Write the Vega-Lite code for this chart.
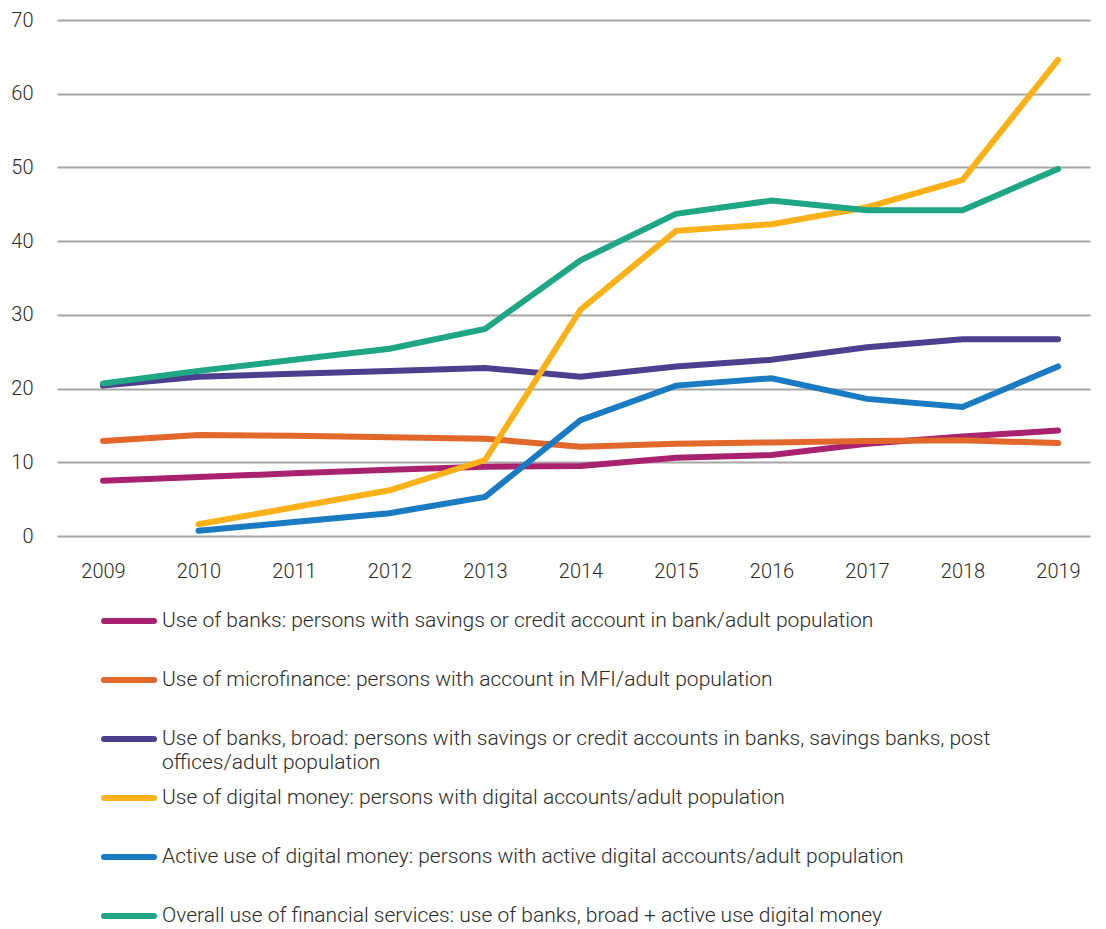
{
  "$schema": "https://vega.github.io/schema/vega-lite/v6.json",
  "autosize": "none",
  "width": 1033,
  "height": 516,
  "padding": {"left": 57, "top": 20, "right": 16, "bottom": 393},
  "background": "white",
  "config": {
    "view": {"stroke": null},
    "font": "Roboto"
  },
  "datasets": {
    "series": [
      {"year": 2009, "series": "Use of banks: persons with savings or credit account in bank/adult population", "value": 7.5},
      {"year": 2010, "series": "Use of banks: persons with savings or credit account in bank/adult population", "value": 8.0},
      {"year": 2011, "series": "Use of banks: persons with savings or credit account in bank/adult population", "value": 8.5},
      {"year": 2012, "series": "Use of banks: persons with savings or credit account in bank/adult population", "value": 9.0},
      {"year": 2013, "series": "Use of banks: persons with savings or credit account in bank/adult population", "value": 9.4},
      {"year": 2014, "series": "Use of banks: persons with savings or credit account in bank/adult population", "value": 9.5},
      {"year": 2015, "series": "Use of banks: persons with savings or credit account in bank/adult population", "value": 10.6},
      {"year": 2016, "series": "Use of banks: persons with savings or credit account in bank/adult population", "value": 11.0},
      {"year": 2017, "series": "Use of banks: persons with savings or credit account in bank/adult population", "value": 12.5},
      {"year": 2018, "series": "Use of banks: persons with savings or credit account in bank/adult population", "value": 13.5},
      {"year": 2019, "series": "Use of banks: persons with savings or credit account in bank/adult population", "value": 14.3},

      {"year": 2009, "series": "Use of microfinance: persons with account in MFI/adult population", "value": 12.9},
      {"year": 2010, "series": "Use of microfinance: persons with account in MFI/adult population", "value": 13.7},
      {"year": 2011, "series": "Use of microfinance: persons with account in MFI/adult population", "value": 13.6},
      {"year": 2012, "series": "Use of microfinance: persons with account in MFI/adult population", "value": 13.4},
      {"year": 2013, "series": "Use of microfinance: persons with account in MFI/adult population", "value": 13.2},
      {"year": 2014, "series": "Use of microfinance: persons with account in MFI/adult population", "value": 12.1},
      {"year": 2015, "series": "Use of microfinance: persons with account in MFI/adult population", "value": 12.5},
      {"year": 2016, "series": "Use of microfinance: persons with account in MFI/adult population", "value": 12.7},
      {"year": 2017, "series": "Use of microfinance: persons with account in MFI/adult population", "value": 12.9},
      {"year": 2018, "series": "Use of microfinance: persons with account in MFI/adult population", "value": 13.0},
      {"year": 2019, "series": "Use of microfinance: persons with account in MFI/adult population", "value": 12.6},

      {"year": 2009, "series": "Use of banks, broad: persons with savings or credit accounts in banks, savings banks, post offices/adult population", "value": 20.4},
      {"year": 2010, "series": "Use of banks, broad: persons with savings or credit accounts in banks, savings banks, post offices/adult population", "value": 21.6},
      {"year": 2011, "series": "Use of banks, broad: persons with savings or credit accounts in banks, savings banks, post offices/adult population", "value": 22.0},
      {"year": 2012, "series": "Use of banks, broad: persons with savings or credit accounts in banks, savings banks, post offices/adult population", "value": 22.4},
      {"year": 2013, "series": "Use of banks, broad: persons with savings or credit accounts in banks, savings banks, post offices/adult population", "value": 22.8},
      {"year": 2014, "series": "Use of banks, broad: persons with savings or credit accounts in banks, savings banks, post offices/adult population", "value": 21.6},
      {"year": 2015, "series": "Use of banks, broad: persons with savings or credit accounts in banks, savings banks, post offices/adult population", "value": 23.0},
      {"year": 2016, "series": "Use of banks, broad: persons with savings or credit accounts in banks, savings banks, post offices/adult population", "value": 23.9},
      {"year": 2017, "series": "Use of banks, broad: persons with savings or credit accounts in banks, savings banks, post offices/adult population", "value": 25.6},
      {"year": 2018, "series": "Use of banks, broad: persons with savings or credit accounts in banks, savings banks, post offices/adult population", "value": 26.7},
      {"year": 2019, "series": "Use of banks, broad: persons with savings or credit accounts in banks, savings banks, post offices/adult population", "value": 26.7},

      {"year": 2010, "series": "Use of digital money: persons with digital accounts/adult population", "value": 1.6},
      {"year": 2011, "series": "Use of digital money: persons with digital accounts/adult population", "value": 3.9},
      {"year": 2012, "series": "Use of digital money: persons with digital accounts/adult population", "value": 6.2},
      {"year": 2013, "series": "Use of digital money: persons with digital accounts/adult population", "value": 10.3},
      {"year": 2014, "series": "Use of digital money: persons with digital accounts/adult population", "value": 30.7},
      {"year": 2015, "series": "Use of digital money: persons with digital accounts/adult population", "value": 41.4},
      {"year": 2016, "series": "Use of digital money: persons with digital accounts/adult population", "value": 42.3},
      {"year": 2017, "series": "Use of digital money: persons with digital accounts/adult population", "value": 44.6},
      {"year": 2018, "series": "Use of digital money: persons with digital accounts/adult population", "value": 48.3},
      {"year": 2019, "series": "Use of digital money: persons with digital accounts/adult population", "value": 64.6},

      {"year": 2010, "series": "Active use of digital money: persons with active digital accounts/adult population", "value": 0.7},
      {"year": 2011, "series": "Active use of digital money: persons with active digital accounts/adult population", "value": 1.9},
      {"year": 2012, "series": "Active use of digital money: persons with active digital accounts/adult population", "value": 3.1},
      {"year": 2013, "series": "Active use of digital money: persons with active digital accounts/adult population", "value": 5.3},
      {"year": 2014, "series": "Active use of digital money: persons with active digital accounts/adult population", "value": 15.7},
      {"year": 2015, "series": "Active use of digital money: persons with active digital accounts/adult population", "value": 20.4},
      {"year": 2016, "series": "Active use of digital money: persons with active digital accounts/adult population", "value": 21.4},
      {"year": 2017, "series": "Active use of digital money: persons with active digital accounts/adult population", "value": 18.6},
      {"year": 2018, "series": "Active use of digital money: persons with active digital accounts/adult population", "value": 17.5},
      {"year": 2019, "series": "Active use of digital money: persons with active digital accounts/adult population", "value": 23.0},

      {"year": 2009, "series": "Overall use of financial services: use of banks, broad + active use digital money", "value": 20.7},
      {"year": 2010, "series": "Overall use of financial services: use of banks, broad + active use digital money", "value": 22.4},
      {"year": 2011, "series": "Overall use of financial services: use of banks, broad + active use digital money", "value": 23.9},
      {"year": 2012, "series": "Overall use of financial services: use of banks, broad + active use digital money", "value": 25.4},
      {"year": 2013, "series": "Overall use of financial services: use of banks, broad + active use digital money", "value": 28.1},
      {"year": 2014, "series": "Overall use of financial services: use of banks, broad + active use digital money", "value": 37.4},
      {"year": 2015, "series": "Overall use of financial services: use of banks, broad + active use digital money", "value": 43.7},
      {"year": 2016, "series": "Overall use of financial services: use of banks, broad + active use digital money", "value": 45.5},
      {"year": 2017, "series": "Overall use of financial services: use of banks, broad + active use digital money", "value": 44.2},
      {"year": 2018, "series": "Overall use of financial services: use of banks, broad + active use digital money", "value": 44.2},
      {"year": 2019, "series": "Overall use of financial services: use of banks, broad + active use digital money", "value": 49.8}
    ]
  },
  "data": {"name": "series"},
  "mark": {"type": "line", "strokeWidth": 6, "strokeCap": "round", "strokeJoin": "miter"},
  "encoding": {
    "x": {
      "field": "year",
      "type": "quantitative",
      "scale": {"domain": [2008.518, 2019.335], "nice": false, "zero": false},
      "axis": {
        "title": null,
        "values": [2009, 2010, 2011, 2012, 2013, 2014, 2015, 2016, 2017, 2018, 2019],
        "format": "d",
        "grid": false,
        "domain": false,
        "ticks": false,
        "labelFlush": false,
        "labelPadding": 25,
        "labelFontSize": 20,
        "labelFont": "Roboto",
        "labelFontWeight": 300,
        "labelColor": "#2b2b2b"
      }
    },
    "y": {
      "field": "value",
      "type": "quantitative",
      "scale": {"domain": [0, 70], "nice": false},
      "axis": {
        "title": null,
        "values": [0, 10, 20, 30, 40, 50, 60, 70],
        "grid": true,
        "gridColor": "#a6a6a6",
        "gridWidth": 2,
        "gridOpacity": 1,
        "domain": false,
        "ticks": false,
        "labelPadding": 24,
        "labelFontSize": 20,
        "labelFont": "Roboto",
        "labelFontWeight": 300,
        "labelColor": "#2b2b2b"
      }
    },
    "color": {
      "field": "series",
      "type": "nominal",
      "sort": null,
      "scale": {
        "domain": [
          "Use of banks: persons with savings or credit account in bank/adult population",
          "Use of microfinance: persons with account in MFI/adult population",
          "Use of banks, broad: persons with savings or credit accounts in banks, savings banks, post offices/adult population",
          "Use of digital money: persons with digital accounts/adult population",
          "Active use of digital money: persons with active digital accounts/adult population",
          "Overall use of financial services: use of banks, broad + active use digital money"
        ],
        "range": ["#a9226f", "#e1672a", "#4b3f8e", "#fbb117", "#1a7bc3", "#1ea685"]
      },
      "legend": {
        "title": null,
        "orient": "none",
        "legendX": 44,
        "legendY": 579,
        "direction": "vertical",
        "columns": 1,
        "gridAlign": "all",
        "padding": 0,
        "symbolType": "M-1,-0.24H1",
        "symbolSize": 2500,
        "symbolStrokeWidth": 6,
        "labelFontSize": 21,
        "labelFont": "Roboto",
        "labelFontWeight": 300,
        "labelColor": "#2b2b2b",
        "labelLimit": 1100,
        "labelOffset": 5,
        "labelBaseline": "alphabetic",
        "rowPadding": 3,
        "labelExpr": "indexof(datum.label, 'post offices') > 0 ? ['Use of banks, broad: persons with savings or credit accounts in banks, savings banks, post', 'offices/adult population'] : datum.label",
        "encode": {
          "symbols": {"update": {"strokeCap": {"value": "round"}}},
          "labels": {"update": {"lineHeight": {"value": 24}}}
        }
      }
    }
  }
}
